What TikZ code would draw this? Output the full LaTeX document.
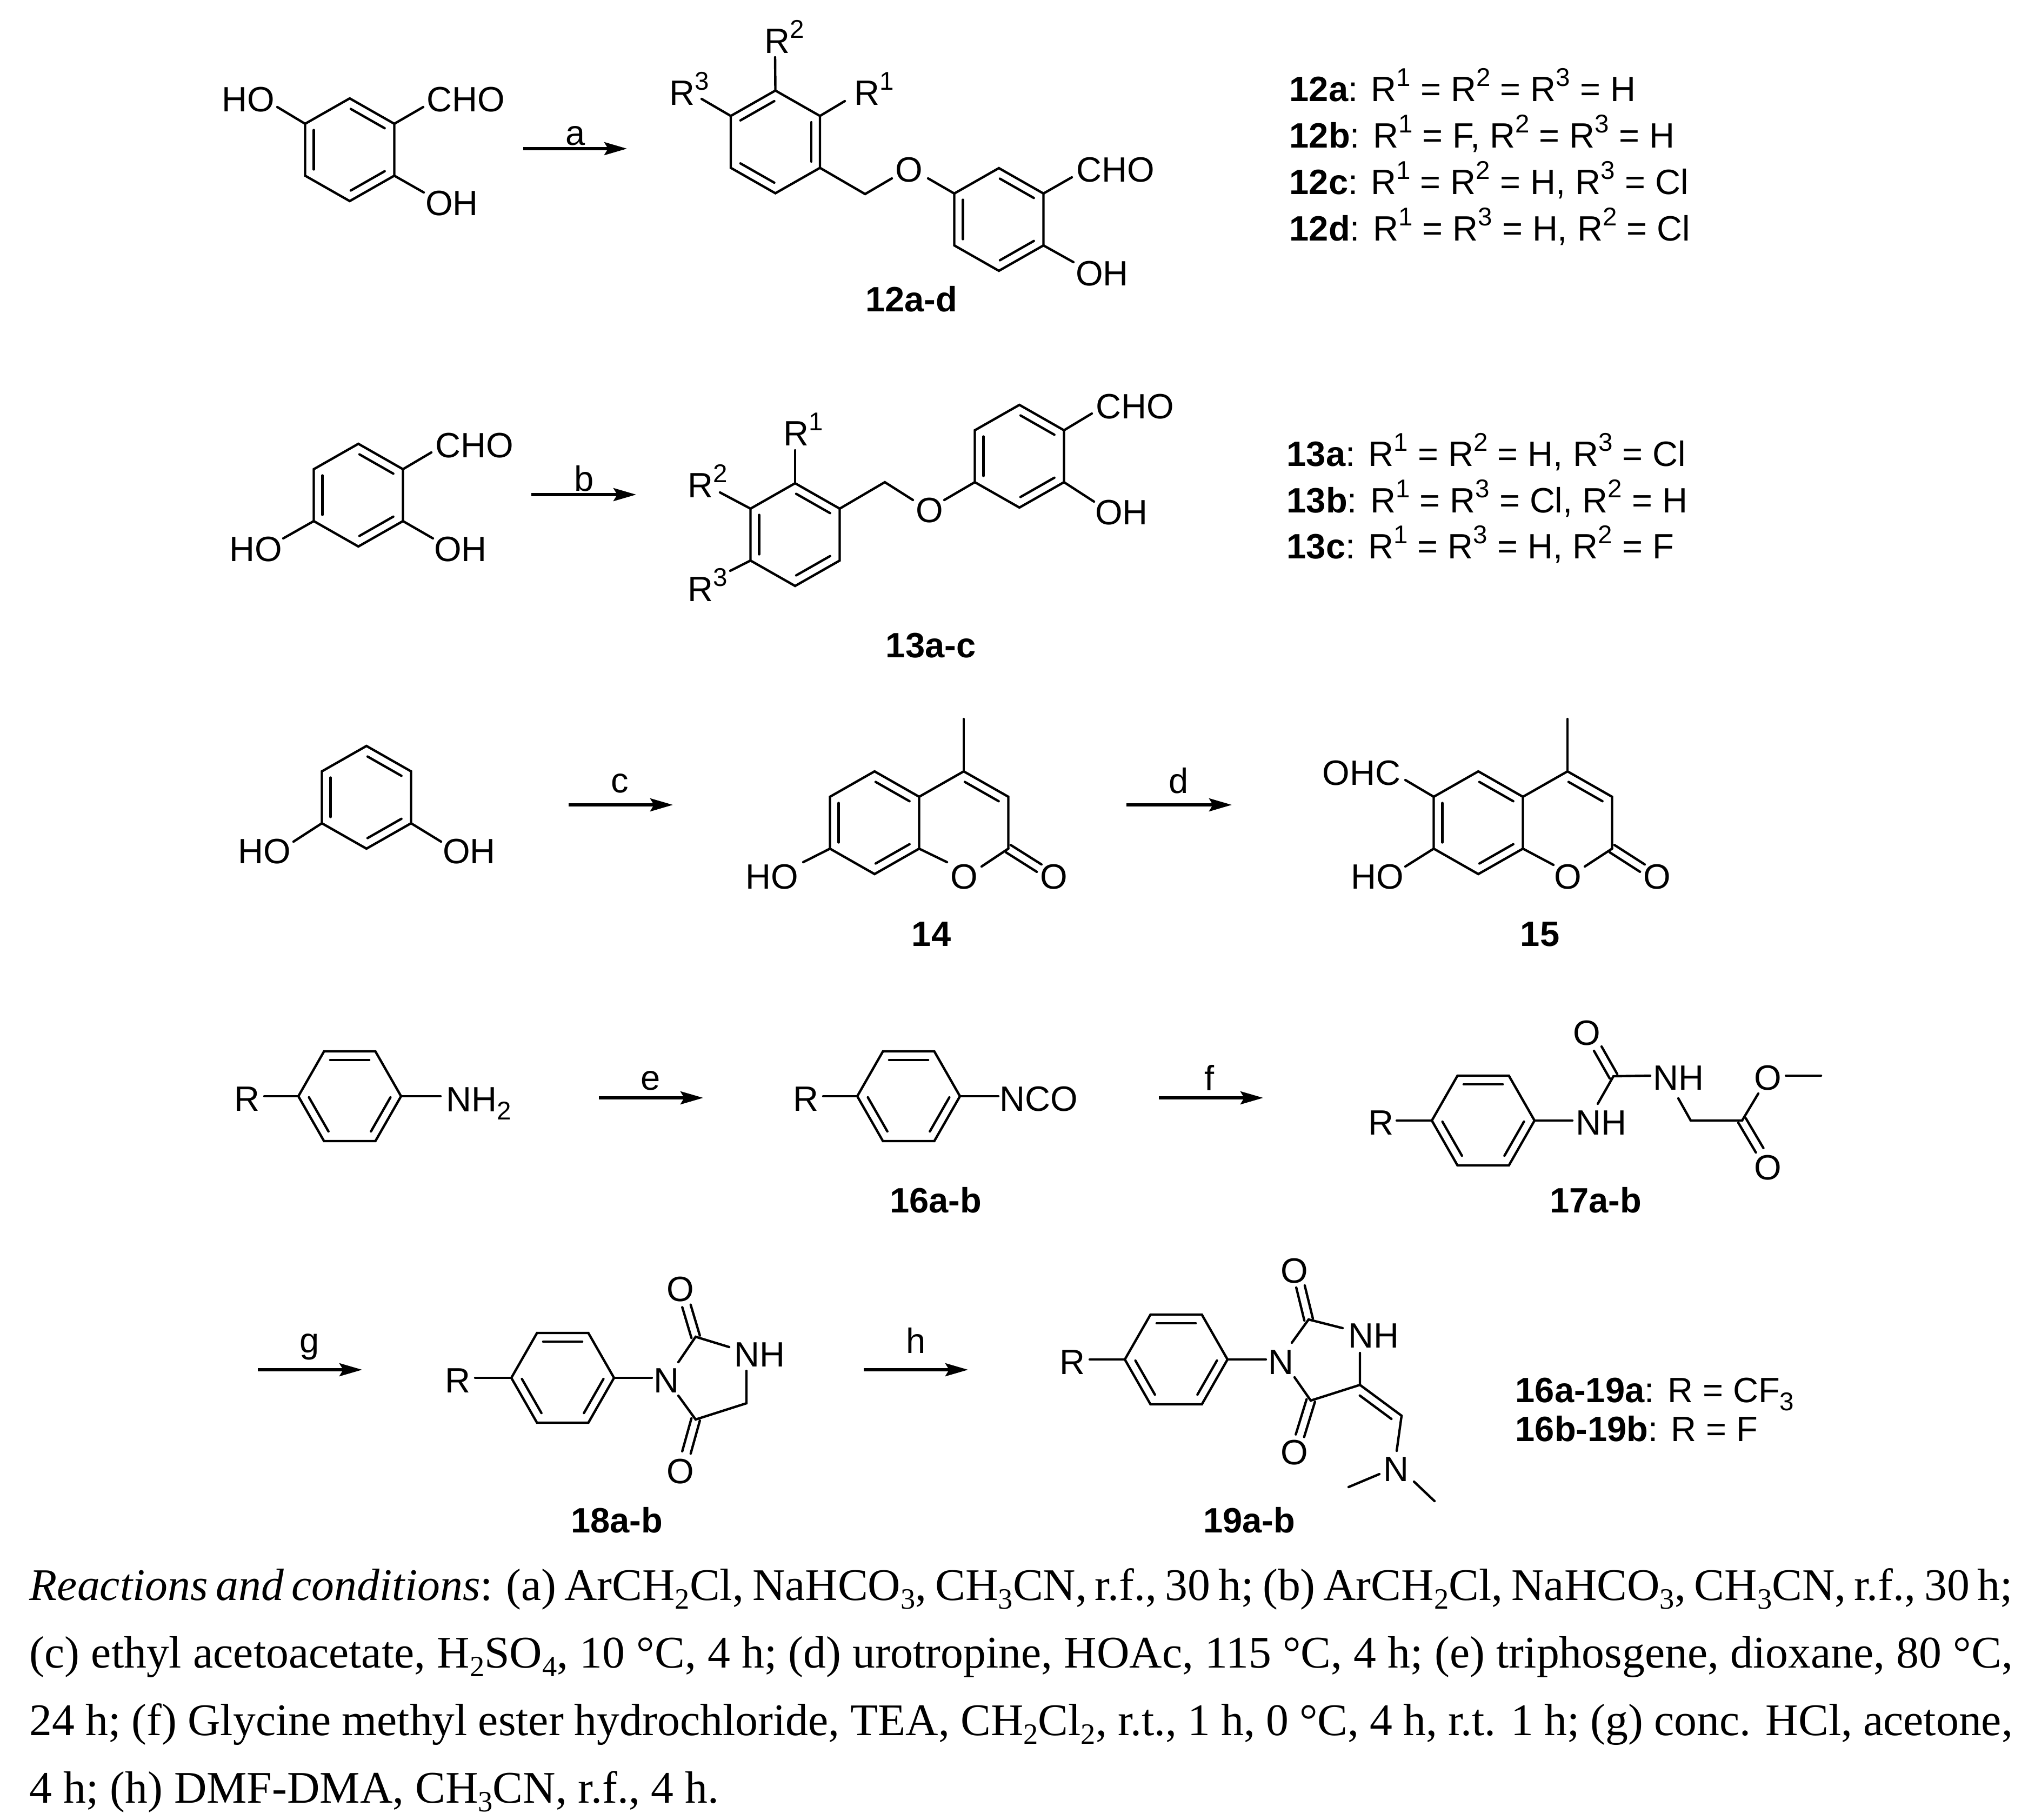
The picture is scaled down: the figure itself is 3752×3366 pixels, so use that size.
\documentclass[tikz,border=0pt]{standalone}
\usepackage{fontspec}
\setmainfont{Liberation Sans}
\newfontfamily\capfont{Liberation Serif}
\usetikzlibrary{calc,arrows.meta}
\newcommand\supr[1]{\raisebox{7.8pt}{\fontsize{13.5pt}{13.5pt}\selectfont #1}}
\newcommand\subr[1]{\raisebox{-4.4pt}{\fontsize{13.5pt}{13.5pt}\selectfont #1}}
\newcommand\cs[1]{\raisebox{-4.6pt}{\fontsize{15.5pt}{15.5pt}\selectfont #1}}
% coordinates of a hexagon with a vertex on top, clockwise from the top
\newcommand\hexp[3]{%
  \coordinate (#11) at (#2,#3-95);
  \coordinate (#12) at (#2+82.5,#3-48);
  \coordinate (#13) at (#2+82.5,#3+48);
  \coordinate (#14) at (#2,#3+95);
  \coordinate (#15) at (#2-82.5,#3+48);
  \coordinate (#16) at (#2-82.5,#3-48);}
% hexagon with a flat top, clockwise from upper left
\newcommand\hexf[3]{%
  \coordinate (#11) at (#2-47.5,#3-83);
  \coordinate (#12) at (#2+47.5,#3-83);
  \coordinate (#13) at (#2+95,#3);
  \coordinate (#14) at (#2+47.5,#3+83);
  \coordinate (#15) at (#2-47.5,#3+83);
  \coordinate (#16) at (#2-95,#3);}
\newcommand\ring[1]{\draw[bond] (#11)--(#12)--(#13)--(#14)--(#15)--(#16)--cycle;}
% inner line of a ring double bond (a to b clockwise)
\newcommand\inl[2]{\draw[bond] ($(#1)!.12!(#2)!4.55pt!-90:(#2)$) -- ($(#2)!.12!(#1)!4.55pt!90:(#1)$);}
% the three inner lines of a ring
\newcommand\inA[1]{\inl{#11}{#12}\inl{#13}{#14}\inl{#15}{#16}}
\newcommand\inB[1]{\inl{#16}{#11}\inl{#12}{#13}\inl{#14}{#15}}
% two parallel lines
\newcommand\dbo[2]{\draw[bond] ($(#1)!2.3pt!90:(#2)$) -- ($(#2)!2.3pt!-90:(#1)$);
  \draw[bond] ($(#1)!2.3pt!-90:(#2)$) -- ($(#2)!2.3pt!90:(#1)$);}
\tikzset{
  bond/.style={line width=1.25pt,line cap=round,line join=miter},
  rxn/.style={line width=1.55pt,-{Stealth[length=11.95pt,width=6.8pt,inset=2pt]}},
  atom/.style={inner sep=0pt,font=\fontsize{18.5pt}{20pt}\selectfont,text height=13.2pt,text depth=0pt},
  batom/.style={atom,font=\fontsize{18.5pt}{20pt}\selectfont\bfseries},
  rlab/.style={inner sep=0pt,anchor=base west,font=\fontsize{18.5pt}{20pt}\selectfont},
  rxl/.style={inner sep=0pt,anchor=base,font=\fontsize{18.5pt}{20pt}\selectfont},
  capline/.style={inner sep=0pt,anchor=base west,font=\fontsize{23.8pt}{28pt}\selectfont\capfont},
}
\begin{document}
\begin{tikzpicture}[x=0.01cm,y=-0.01cm]
\useasboundingbox (0,0) rectangle (3752,3366);
\fill[white] (0,0) rectangle (3752,3366);

%%% row 1
\hexp{a}{647}{277} \ring{a} \inA{a}
\node[atom] (a_ho) at (459,183) {HO};
\node[atom] (a_cho) at (862,183) {CHO};
\node[atom] (a_oh) at (836,375) {OH};
\draw[bond] (a6) -- ($(a_ho)+(54,15)$);
\draw[bond] (a2) -- ($(a_cho)+(-79,15)$);
\draw[bond] (a3) -- ($(a_oh)+(-52,-19)$);
\coordinate (arA0) at (968,275); \coordinate (arA1) at (1160,275);
\draw[rxn] (arA0) -- (arA1);
\node[rxl] (la) at (1065,268) {a};

\hexp{b}{1434.5}{262.5} \ring{b} \inB{b}
\hexp{c}{1848}{406} \ring{c} \inA{c}
\node[rlab] (b_r2) at (1414,98) {R\supr{2}};
\node[rlab] (b_r3) at (1238,194) {R\supr{3}};
\node[rlab] (b_r1) at (1580,194) {R\supr{1}};
\draw[bond] (b1) -- ($(b_r2.base west)+(20,8)$);
\draw[bond] (b6) -- ($(b_r3.base west)+(60,-11)$);
\draw[bond] (b2) -- ($(b_r1.base west)+(-17,-7)$);
\node[atom] (b_o) at (1682,313) {O};
\coordinate (b_ch2) at (1600.5,359);
\draw[bond] (b3) -- (b_ch2) -- ($(b_o)+(-32,17)$);
\draw[bond] (c6) -- ($(b_o)+(35,17)$);
\node[atom] (c_cho) at (2064,313) {CHO};
\node[atom] (c_oh) at (2039,505) {OH};
\draw[bond] (c2) -- ($(c_cho)+(-81,15)$);
\draw[bond] (c3) -- ($(c_oh)+(-53,-20)$);
\node[batom] (l12) at (1686,553) {12a-d};

\node[rlab] (t12a) at (2385,187) {\textbf{12a}: R\supr{1} = R\supr{2} = R\supr{3} = H};
\node[rlab] (t12b) at (2385,273) {\textbf{12b}: R\supr{1} = F, R\supr{2} = R\supr{3} = H};
\node[rlab] (t12c) at (2385,359) {\textbf{12c}: R\supr{1} = R\supr{2} = H, R\supr{3} = Cl};
\node[rlab] (t12d) at (2385,445) {\textbf{12d}: R\supr{1} = R\supr{3} = H, R\supr{2} = Cl};

%%% row 2
\hexp{d}{663}{916} \ring{d} \inA{d}
\node[atom] (d_cho) at (878,823) {CHO};
\node[atom] (d_ho) at (473,1015) {HO};
\node[atom] (d_oh) at (852,1015) {OH};
\draw[bond] (d2) -- ($(d_cho)+(-80,14)$);
\draw[bond] (d5) -- ($(d_ho)+(51,-19)$);
\draw[bond] (d3) -- ($(d_oh)+(-51,-19)$);
\coordinate (arB0) at (983,915); \coordinate (arB1) at (1177,915);
\draw[rxn] (arB0) -- (arB1);
\node[rxl] (lb) at (1081,908) {b};

\hexp{g}{1471}{989} \ring{g} \inA{g}
\hexp{h}{1886}{844} \ring{h} \inA{h}
\node[rlab] (g_r1) at (1449,824) {R\supr{1}};
\node[rlab] (g_r2) at (1272,920) {R\supr{2}};
\node[rlab] (g_r3) at (1272,1112) {R\supr{3}};
\draw[bond] (g1) -- ($(g_r1.base west)+(22,9)$);
\draw[bond] (g6) -- ($(g_r2.base west)+(60,-9)$);
\draw[bond] (g5) -- ($(g_r3.base west)+(79,-56)$);
\node[atom] (g_o) at (1720,943) {O};
\coordinate (g_ch2) at (1637,892);
\draw[bond] (g2) -- (g_ch2) -- ($(g_o)+(-31,-18)$);
\draw[bond] (h5) -- ($(g_o)+(27,-18)$);
\node[atom] (h_cho) at (2100,751) {CHO};
\node[atom] (h_oh) at (2075,947) {OH};
\draw[bond] (h2) -- ($(h_cho)+(-80,14)$);
\draw[bond] (h3) -- ($(h_oh)+(-51,-19)$);
\node[batom] (l13) at (1722,1193) {13a-c};

\node[rlab] (t13a) at (2380,862) {\textbf{13a}: R\supr{1} = R\supr{2} = H, R\supr{3} = Cl};
\node[rlab] (t13b) at (2380,948) {\textbf{13b}: R\supr{1} = R\supr{3} = Cl, R\supr{2} = H};
\node[rlab] (t13c) at (2380,1033) {\textbf{13c}: R\supr{1} = R\supr{3} = H, R\supr{2} = F};

%%% row 3
\hexp{i}{678}{1475} \ring{i} \inA{i}
\node[atom] (i_ho) at (489,1574) {HO};
\node[atom] (i_oh) at (868,1574) {OH};
\draw[bond] (i5) -- ($(i_ho)+(54,-17)$);
\draw[bond] (i3) -- ($(i_oh)+(-52,-17)$);
\coordinate (arC0) at (1052,1489); \coordinate (arC1) at (1245,1489);
\draw[rxn] (arC0) -- (arC1);
\node[rxl] (lc) at (1147,1466) {c};

\hexp{j}{1618}{1522} \ring{j} \inA{j}
\hexp{k}{1783}{1522}
\draw[bond] (k6) -- (k1) -- (k2) -- (k3);
\inl{k1}{k2}
\coordinate (k_me) at (1783,1330);
\draw[bond] (k1) -- (k_me);
\node[atom] (k_o) at (1784,1621) {O};
\node[atom] (k_oc) at (1950,1621) {O};
\node[atom] (j_ho) at (1428,1621) {HO};
\draw[bond] (k5) -- ($(k_o)+(-32,-26)$);
\draw[bond] (k3) -- ($(k_o)+(32,-18)$);
\draw[bond] (j5) -- ($(j_ho)+(58,-26)$);
\coordinate (k_oe) at ($(k_oc)+(-27.5,-15)$);
\dbo{k3}{k_oe}
\node[batom] (l14) at (1723,1727) {14};
\coordinate (arD0) at (2084,1489); \coordinate (arD1) at (2279,1489);
\draw[rxn] (arD0) -- (arD1);
\node[rxl] (ld) at (2181,1467) {d};

\hexp{m}{2735}{1522} \ring{m} \inA{m}
\hexp{n}{2900}{1522}
\draw[bond] (n6) -- (n1) -- (n2) -- (n3);
\inl{n1}{n2}
\coordinate (n_me) at (2900,1330);
\draw[bond] (n1) -- (n_me);
\node[atom] (n_o) at (2901,1621) {O};
\node[atom] (n_oc) at (3066,1621) {O};
\node[atom] (m_ohc) at (2519,1429) {OHC};
\node[atom] (m_ho) at (2548,1621) {HO};
\draw[bond] (m6) -- ($(m_ohc)+(81,14)$);
\draw[bond] (m5) -- ($(m_ho)+(52,-18)$);
\draw[bond] (n5) -- ($(n_o)+(-27,-21)$);
\draw[bond] (n3) -- ($(n_o)+(31,-18)$);
\coordinate (n_oe) at ($(n_oc)+(-27.5,-15)$);
\dbo{n3}{n_oe}
\node[batom] (l15) at (2849,1727) {15};

%%% row 4
\hexf{p}{647}{2028} \ring{p} \inA{p}
\node[atom] (p_r) at (457,2032) {R};
\node[rlab] (p_n) at (825,2056) {NH\subr{2}};
\draw[bond] (p6) -- ($(p_r)+(32,-4)$);
\draw[bond] (p3) -- ($(p_n.base west)+(-10,-28)$);
\coordinate (arE0) at (1108,2031); \coordinate (arE1) at (1301,2031);
\draw[rxn] (arE0) -- (arE1);
\node[rxl] (le) at (1204,2016) {e};

\hexf{q}{1681}{2028} \ring{q} \inA{q}
\node[atom] (q_r) at (1491,2032) {R};
\node[atom] (q_nco) at (1922,2032) {NCO};
\draw[bond] (q6) -- ($(q_r)+(32,-4)$);
\draw[bond] (q3) -- ($(q_nco)+(-75,-4)$);
\node[batom] (l16) at (1731,2220) {16a-b};
\coordinate (arF0) at (2144,2031); \coordinate (arF1) at (2337,2031);
\draw[rxn] (arF0) -- (arF1);
\node[rxl] (lf) at (2238,2017) {f};

\hexf{s}{2744}{2073} \ring{s} \inA{s}
\node[atom] (s_r) at (2555,2076) {R};
\node[atom] (s_nh) at (2962,2076) {NH};
\draw[bond] (s6) -- ($(s_r)+(29,-3)$);
\draw[bond] (s3) -- ($(s_nh)+(-53,-3)$);
\coordinate (s_c) at (2985,1991);
\node[atom] (s_o) at (2936,1910) {O};
\node[atom] (s_nh2) at (3105,1993) {NH};
\node[atom] (s_oe) at (3271,1993) {O};
\node[atom] (s_oc) at (3271,2159) {O};
\draw[bond] ($(s_nh)+(-6,-34)$) -- (s_c) -- ($(s_nh2)+(-52,-3)$);
\coordinate (s_oend) at ($(s_o)+(20,30)$);
\dbo{s_c}{s_oend}
\coordinate (s_ch2) at (3128,2073);
\coordinate (s_cq) at (3223,2073);
\draw[bond] ($(s_nh2)+(0,39)$) -- (s_ch2) -- (s_cq) -- ($(s_oe)+(-18,30)$);
\coordinate (s_oend2) at ($(s_oc)+(-15.5,-31)$);
\dbo{s_cq}{s_oend2}
\coordinate (s_me) at (3369,1990);
\draw[bond] ($(s_oe)+(33,-3)$) -- (s_me);
\node[batom] (l17) at (2952,2220) {17a-b};

%%% row 5
\coordinate (arG0) at (477,2534); \coordinate (arG1) at (670,2534);
\draw[rxn] (arG0) -- (arG1);
\node[rxl] (lg) at (573,2502) {g};

\hexf{u}{1041}{2549} \ring{u} \inA{u}
\node[atom] (u_r) at (847,2553) {R};
\node[atom] (u_n) at (1233,2553) {N};
\node[atom] (u_nh) at (1405,2505) {NH};
\node[atom] (u_o1) at (1259,2384) {O};
\node[atom] (u_o2) at (1259,2721) {O};
\draw[bond] (u6) -- ($(u_r)+(32,-4)$);
\draw[bond] (u3) -- ($(u_n)+(-27,-4)$);
\coordinate (u_c2) at (1287,2473);
\coordinate (u_c5) at (1287,2626);
\coordinate (u_c4) at (1381,2596);
\draw[bond] ($(u_n)+(22,-33)$) -- (u_c2) -- ($(u_nh)+(-56,-13)$);
\draw[bond] ($(u_nh)+(-24,31)$) -- (u_c4) -- (u_c5) -- ($(u_n)+(22,29)$);
\coordinate (u_oa) at ($(u_o1)+(11,32)$);
\coordinate (u_ob) at ($(u_o2)+(11,-34)$);
\dbo{u_c2}{u_oa}
\dbo{u_c5}{u_ob}
\node[batom] (l18) at (1141,2812) {18a-b};
\coordinate (arH0) at (1598,2534); \coordinate (arH1) at (1791,2534);
\draw[rxn] (arH0) -- (arH1);
\node[rxl] (lh) at (1695,2503) {h};

\hexf{v}{2176}{2515} \ring{v} \inA{v}
\node[atom] (v_r) at (1984,2519) {R};
\node[atom] (v_n) at (2370,2519) {N};
\node[atom] (v_nh) at (2541,2470) {NH};
\node[atom] (v_o1) at (2395,2350) {O};
\node[atom] (v_o2) at (2395,2686) {O};
\node[atom] (v_n2) at (2583,2717) {N};
\draw[bond] (v6) -- ($(v_r)+(32,-4)$);
\draw[bond] (v3) -- ($(v_n)+(-28,-4)$);
\coordinate (v_c2) at (2421,2441);
\coordinate (v_c5) at (2425,2591);
\coordinate (v_c4) at (2516,2562);
\coordinate (v_ch) at (2593,2619);
\draw[bond] ($(v_n)+(20,-35)$) -- (v_c2) -- ($(v_nh)+(-57,-13)$);
\draw[bond] ($(v_nh)+(-25,33)$) -- (v_c4) -- (v_c5) -- ($(v_n)+(25,29)$);
\coordinate (v_oa) at ($(v_o1)+(11,30)$);
\coordinate (v_ob) at ($(v_o2)+(10,-30)$);
\dbo{v_c2}{v_oa}
\dbo{v_c5}{v_ob}
\draw[bond] (v_c4) -- (v_ch) -- ($(v_n2)+(1,-33)$);
\inl{v_c4}{v_ch}
\coordinate (v_me1) at (2495,2751);
\coordinate (v_me2) at (2654,2777);
\draw[bond] ($(v_n2)+(-31,10)$) -- (v_me1);
\draw[bond] ($(v_n2)+(33,24)$) -- (v_me2);
\node[batom] (l19) at (2311,2812) {19a-b};

\node[rlab] (t16a) at (2803,2594) {\textbf{16a-19a}: R = CF\subr{3}};
\node[rlab] (t16b) at (2803,2666) {\textbf{16b-19b}: R = F};

%%% caption
\node[capline] (cap1) at (54,2960) {\makebox[36.67cm][s]{\textit{Reactions and conditions}: (a) ArCH\cs{2}Cl, NaHCO\cs{3}, CH\cs{3}CN, r.f., 30 h; (b) ArCH\cs{2}Cl, NaHCO\cs{3}, CH\cs{3}CN, r.f., 30 h;}};
\node[capline] (cap2) at (54,3085) {\makebox[36.67cm][s]{(c) ethyl acetoacetate, H\cs{2}SO\cs{4}, 10 °C, 4 h; (d) urotropine, HOAc, 115 °C, 4 h; (e) triphosgene, dioxane, 80 °C,}};
\node[capline] (cap3) at (54,3210) {\makebox[36.67cm][s]{24 h; (f) Glycine methyl ester hydrochloride, TEA, CH\cs{2}Cl\cs{2}, r.t., 1 h, 0 °C, 4 h, r.t. 1 h; (g) conc. HCl, acetone,}};
\node[capline] (cap4) at (54,3335) {4 h; (h) DMF-DMA, CH\cs{3}CN, r.f., 4 h.};
\end{tikzpicture}
\end{document}
